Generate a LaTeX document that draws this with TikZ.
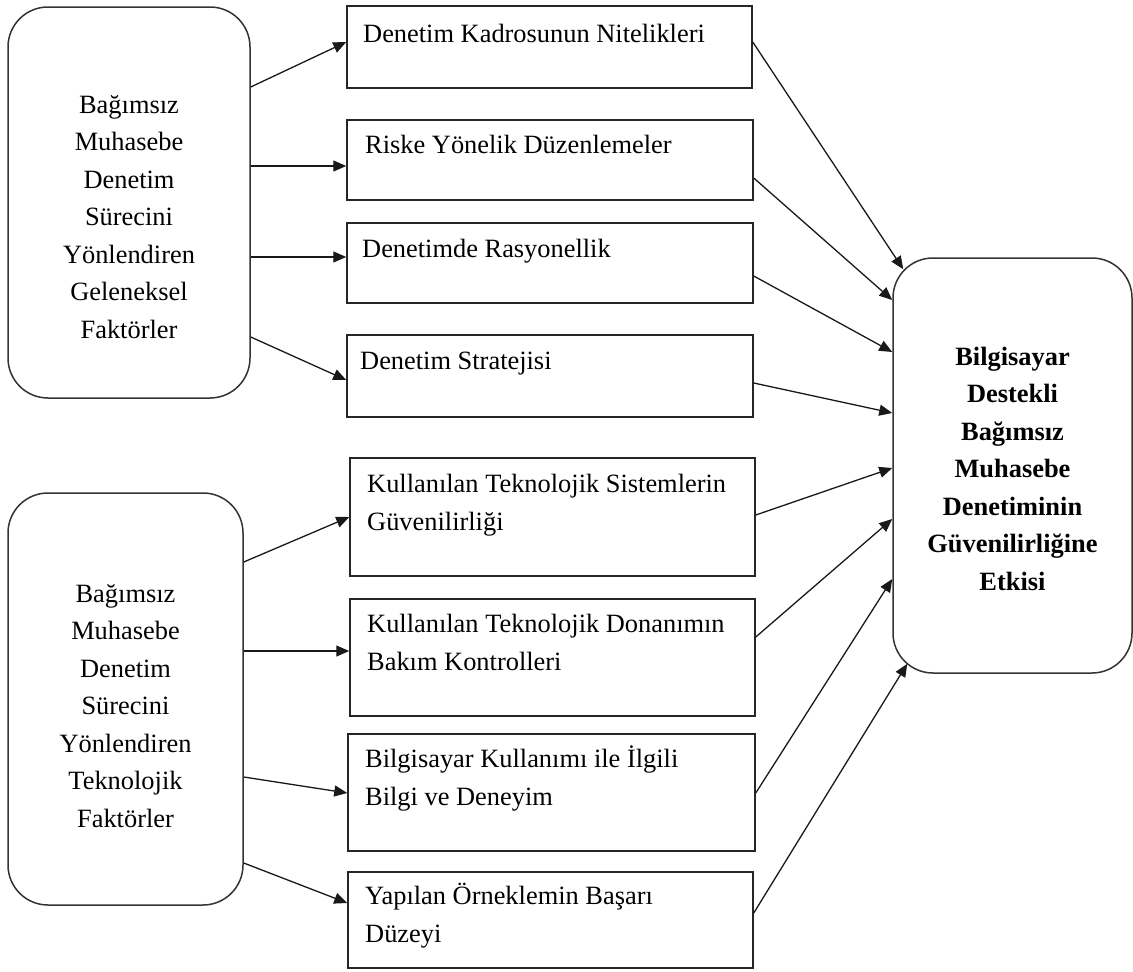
\documentclass[tikz,border=0pt]{standalone}
\usepackage{fontspec}
\setmainfont{Liberation Serif}
\usetikzlibrary{arrows.meta,calc}

\begin{document}
\begin{tikzpicture}[x=1pt,y=-1pt,
  groupbox/.style={draw=black!80, line width=1.5pt, rounded corners=40pt, inner sep=0pt},
  factorbox/.style={draw=black!85, line width=1.5pt, inner sep=0pt},
  boxtext/.style={inner sep=0pt, anchor=base west, align=left,
    font=\fontsize{26.4}{37.5}\selectfont},
  grouptext/.style={inner sep=0pt, anchor=base, align=center,
    font=\fontsize{26.4}{37.5}\selectfont},
  link/.style={draw=black!90, line width=1.3pt, -{Triangle[length=13pt,width=11pt]}}]

\useasboundingbox (0,0) rectangle (1133,972);

% factor groups on the left and the outcome on the right
\node[groupbox, minimum width=242pt, minimum height=391pt] (g1) at (129,202.5) {};
\node[groupbox, minimum width=235pt, minimum height=412pt] (g2) at (125.5,699) {};
\node[groupbox, minimum width=239pt, minimum height=415pt] (out) at (1012.5,465.5) {};

% multi-line texts are placed by the baseline of their last line
\node[grouptext] (g1t) at (129,338)
  {Bağımsız\\Muhasebe\\Denetim\\Sürecini\\Yönlendiren\\Geleneksel\\Faktörler};
\node[grouptext] (g2t) at (125.5,827)
  {Bağımsız\\Muhasebe\\Denetim\\Sürecini\\Yönlendiren\\Teknolojik\\Faktörler};
\node[grouptext, font=\fontsize{26.4}{37.5}\selectfont\bfseries] (outt) at (1012.5,590)
  {Bilgisayar\\Destekli\\Bağımsız\\Muhasebe\\Denetiminin\\Güvenilirliğine\\Etkisi};

% individual factors
\node[factorbox, minimum width=405pt, minimum height=82pt] (m1) at (549.5,47) {};
\node[factorbox, minimum width=406pt, minimum height=80pt] (m2) at (550,160) {};
\node[factorbox, minimum width=406pt, minimum height=80pt] (m3) at (550,263) {};
\node[factorbox, minimum width=406pt, minimum height=82pt] (m4) at (550,376) {};
\node[factorbox, minimum width=405pt, minimum height=118pt] (m5) at (552.5,517) {};
\node[factorbox, minimum width=405pt, minimum height=117pt] (m6) at (552.5,657.5) {};
\node[factorbox, minimum width=407pt, minimum height=117pt] (m7) at (551.5,792.5) {};
\node[factorbox, minimum width=405pt, minimum height=96pt] (m8) at (550.5,920) {};

\node[boxtext] (m1t) at (363,42) {Denetim Kadrosunun Nitelikleri};
\node[boxtext] (m2t) at (365,153) {Riske Yönelik Düzenlemeler};
\node[boxtext] (m3t) at (362,257) {Denetimde Rasyonellik};
\node[boxtext] (m4t) at (360,369) {Denetim Stratejisi};
\node[boxtext] (m5t) at (367,530) {Kullanılan Teknolojik Sistemlerin\\Güvenilirliği};
\node[boxtext] (m6t) at (367,670) {Kullanılan Teknolojik Donanımın\\Bakım Kontrolleri};
\node[boxtext] (m7t) at (365,805) {Bilgisayar Kullanımı ile İlgili\\Bilgi ve Deneyim};
\node[boxtext] (m8t) at (365,942) {Yapılan Örneklemin Başarı\\Düzeyi};

% arrows from the groups to their factors
\draw[link] (g1.east |- 0,87)  -- (m1.west |- 0,42);
\draw[link] (g1.east |- 0,166) -- (m2.west |- 0,166);
\draw[link] (g1.east |- 0,257) -- (m3.west |- 0,257);
\draw[link] (g1.east |- 0,337) -- (m4.west |- 0,380);
\draw[link] (g2.east |- 0,562) -- (m5.west |- 0,517);
\draw[link] (g2.east |- 0,651) -- (m6.west |- 0,651);
\draw[link] (g2.east |- 0,777) -- (m7.west |- 0,793);
\draw[link] (g2.east |- 0,863) -- (m8.west |- 0,903);

% arrows from every factor to the outcome
\coordinate (outnw) at ($(out.north west)+(11,12)$);
\coordinate (outsw) at ($(out.south west)+(15,-10)$);
\draw[link] (m1.east |- 0,42)  -- (outnw);
\draw[link] (m2.east |- 0,178) -- (out.west |- 0,300);
\draw[link] (m3.east |- 0,276) -- (out.west |- 0,352);
\draw[link] (m4.east |- 0,383) -- (out.west |- 0,413);
\draw[link] (m5.east |- 0,515) -- (out.west |- 0,468);
\draw[link] (m6.east |- 0,637) -- (out.west |- 0,519);
\draw[link] (m7.east |- 0,793) -- (out.west |- 0,579);
\draw[link] (m8.east |- 0,913) -- (outsw);
\end{tikzpicture}
\end{document}
